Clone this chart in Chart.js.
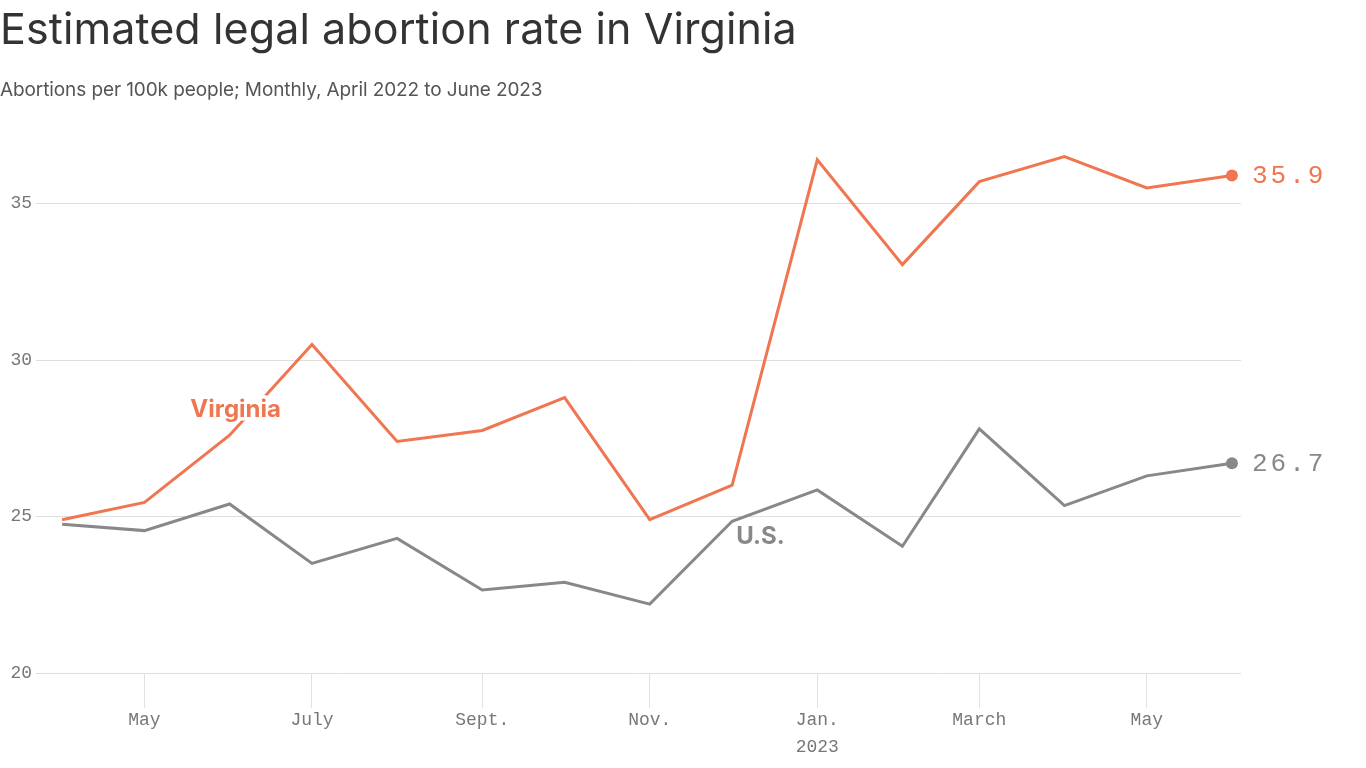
<!DOCTYPE html>
<html>
<head>
<meta charset="utf-8">
<script src="https://cdn.jsdelivr.net/npm/chart.js@4"></script>
<style>
  body { margin: 0; background: #fff; }
  #wrap { position: relative; width: 1366px; height: 768px; }
  #title { position: absolute; left: 0; top: 2px; font: 400 43px Inter, sans-serif; color: #333; letter-spacing: 0.1px; white-space: nowrap; }
  #subtitle { position: absolute; left: 0; top: 78px; font: 400 19px Inter, sans-serif; color: #555; letter-spacing: -0.1px; white-space: nowrap; }
  canvas { position: absolute; left: 0; top: 0; }
</style>
</head>
<body>
<div id="wrap">
  <canvas id="chart" width="1366" height="768"></canvas>
  <div id="title">Estimated legal abortion rate in Virginia</div>
  <div id="subtitle">Abortions per 100k people; Monthly, April 2022 to June 2023</div>
</div>
<script>
// days since April 1, 2022 — one point per month
const days = [0, 30, 61, 91, 122, 153, 183, 214, 244, 275, 306, 334, 365, 395, 426];
const virginia = [24.9, 25.45, 27.6, 30.5, 27.4, 27.75, 28.8, 24.9, 26.0, 36.4, 33.05, 35.7, 36.5, 35.5, 35.9];
const us = [24.75, 24.55, 25.4, 23.5, 24.3, 22.65, 22.9, 22.2, 24.85, 25.85, 24.05, 27.8, 25.35, 26.3, 26.7];

const xTickDays = [30, 91, 153, 214, 275, 334, 395];
const xTickLabels = ['May', 'July', 'Sept.', 'Nov.', ['Jan.', '2023'], 'March', 'May'];
const yTickValues = [20, 25, 30, 35];

const ORANGE = '#ef7650';
const GRAY = '#888888';

function toPoints(vals) {
    return vals.map((v, i) => ({ x: days[i], y: v }));
}

function lastOnly(r) {
    return days.map((d, i) => i === days.length - 1 ? r : 0);
}

// series labels + end values
const labelPlugin = {
    id: 'seriesLabels',
    afterDatasetsDraw(chart) {
        const ctx = chart.ctx;
        const x = chart.scales.x, y = chart.scales.y;
        ctx.save();

        // inline series names with white halo
        ctx.font = '700 24px Inter, sans-serif';
        ctx.textBaseline = 'middle';
        ctx.lineJoin = 'round';
        ctx.lineWidth = 7;
        ctx.strokeStyle = '#fff';

        ctx.textAlign = 'center';
        let px = x.getPixelForValue(days[2]) + 6, py = y.getPixelForValue(virginia[2]) - 25;
        ctx.strokeText('Virginia', px, py);
        ctx.fillStyle = ORANGE;
        ctx.fillText('Virginia', px, py);

        ctx.textAlign = 'left';
        px = x.getPixelForValue(days[8]) + 4; py = y.getPixelForValue(us[8]) + 16;
        ctx.strokeText('U.S.', px, py);
        ctx.fillStyle = GRAY;
        ctx.fillText('U.S.', px, py);

        // end values
        const n = days.length - 1;
        ctx.font = '400 26px "Liberation Mono", monospace';
        ctx.letterSpacing = '3px';
        ctx.fillStyle = ORANGE;
        ctx.fillText(virginia[n].toFixed(1), x.getPixelForValue(days[n]) + 20, y.getPixelForValue(virginia[n]) + 1);
        ctx.fillStyle = GRAY;
        ctx.fillText(us[n].toFixed(1), x.getPixelForValue(days[n]) + 20, y.getPixelForValue(us[n]) + 1);
        ctx.restore();
    }
};

new Chart(document.getElementById('chart'), {
    type: 'line',
    data: {
        datasets: [
            {
                label: 'U.S.',
                data: toPoints(us),
                borderColor: GRAY,
                backgroundColor: GRAY,
                borderWidth: 3,
                pointRadius: lastOnly(6),
                pointBorderWidth: 0,
                tension: 0
            },
            {
                label: 'Virginia',
                data: toPoints(virginia),
                borderColor: ORANGE,
                backgroundColor: ORANGE,
                borderWidth: 3,
                pointRadius: lastOnly(6),
                pointBorderWidth: 0,
                tension: 0
            }
        ]
    },
    options: {
        responsive: false,
        animation: false,
        devicePixelRatio: 1,
        layout: { padding: { top: 141, right: 125, left: 0, bottom: 0 } },
        plugins: {
            legend: { display: false },
            tooltip: { enabled: false }
        },
        scales: {
            x: {
                type: 'linear',
                min: -9.5,
                max: 429.3,
                afterFit: s => { s.height = 95; },
                afterBuildTicks: s => { s.ticks = xTickDays.map(v => ({ value: v })); },
                border: { display: false },
                grid: {
                    drawOnChartArea: false,
                    drawTicks: true,
                    tickLength: 35,
                    color: '#e2e2e2',
                    lineWidth: 1
                },
                ticks: {
                    padding: -1,
                    maxRotation: 0,
                    autoSkip: false,
                    color: '#777',
                    font: { family: '"Liberation Mono", monospace', size: 18, lineHeight: 1.5 },
                    callback: (v) => xTickLabels[xTickDays.indexOf(v)]
                }
            },
            y: {
                min: 20,
                max: 37,
                afterFit: s => { s.width = 36; },
                afterBuildTicks: s => { s.ticks = yTickValues.map(v => ({ value: v })); },
                border: { display: false },
                grid: {
                    drawTicks: false,
                    color: '#dedede',
                    lineWidth: 1
                },
                ticks: {
                    padding: 4,
                    color: '#777',
                    font: { family: '"Liberation Mono", monospace', size: 18 }
                }
            }
        }
    },
    plugins: [labelPlugin]
});
</script>
</body>
</html>
